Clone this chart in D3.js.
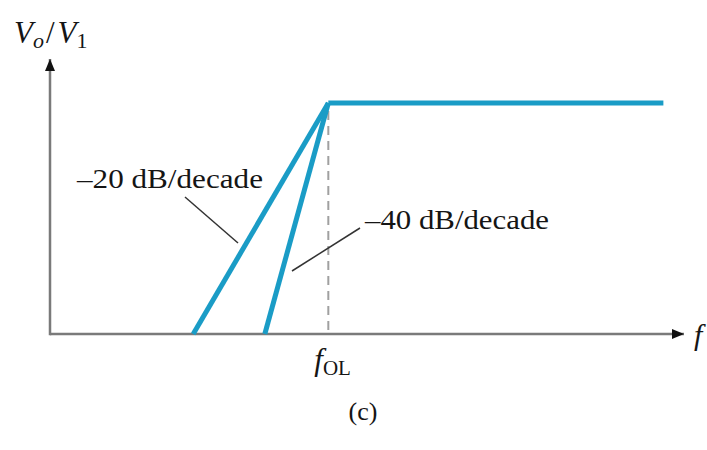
<!DOCTYPE html>
<html>
<head>
<meta charset="utf-8">
<script src="https://cdn.jsdelivr.net/npm/d3@7"></script>
<style>
  html, body { margin: 0; padding: 0; background: #fff; }
  svg { display: block; font-family: "Liberation Serif", "DejaVu Serif", serif; }
</style>
</head>
<body>
<svg id="chart" width="707" height="450"></svg>
<script>
// x: log10(f / fOL) in decades, y: gain in dB relative to the midband level
const flatResponse = [{ x: 0, y: 0 }, { x: 2.48, y: 0 }];
const rolloff20 = [{ x: -1.0, y: -20 }, { x: 0, y: 0 }];
const rolloff40 = [{ x: -0.47, y: -20 }, { x: 0, y: 0 }];
const breakFrequency = [0];
const slopeLabels = ["\u201320 dB/decade", "\u201340 dB/decade"];
const tickLabels = ["f", "OL"];

const svg = d3.select("#chart");
const x = d3.scaleLinear().domain([-2.06, 2.64]).range([50, 685]);
const y = d3.scaleLinear().domain([-20, 0]).range([334, 103]);
const yTop = 3.9;

const axisColor = "#7a7a7a";
const blue = "#1a9cc6";
const ink = "#151515";

const defs = svg.append("defs");
defs.append("marker")
  .attr("id", "arrow").attr("viewBox", "0 0 12 10")
  .attr("refX", 12).attr("refY", 5)
  .attr("markerWidth", 12).attr("markerHeight", 10)
  .attr("markerUnits", "userSpaceOnUse")
  .attr("orient", "auto")
  .append("path").attr("d", "M0,0 L12,5 L0,10 Z").attr("fill", "#111");

// axes
svg.append("line")
  .attr("x1", x(-2.06)).attr("y1", y(-20))
  .attr("x2", x(2.64) - 1).attr("y2", y(-20))
  .attr("stroke", axisColor).attr("stroke-width", 2.5)
  .attr("marker-end", "url(#arrow)");
svg.append("line")
  .attr("x1", x(-2.06)).attr("y1", y(-20) + 1.2)
  .attr("x2", x(-2.06)).attr("y2", y(yTop) + 1)
  .attr("stroke", axisColor).attr("stroke-width", 2.5)
  .attr("marker-end", "url(#arrow)");

// dashed break-frequency line
svg.selectAll("line.brk").data(breakFrequency).enter().append("line")
  .attr("class", "brk")
  .attr("x1", d => x(d)).attr("x2", d => x(d))
  .attr("y1", y(0) + 8).attr("y2", y(-20))
  .attr("stroke", "#a0a0a0").attr("stroke-width", 2)
  .attr("stroke-dasharray", "9,6");

// response curves
const line = d3.line().x(d => x(d.x)).y(d => y(d.y));
[rolloff20, rolloff40, flatResponse].forEach(data => {
  svg.append("path").datum(data)
    .attr("d", line)
    .attr("fill", "none")
    .attr("stroke", blue)
    .attr("stroke-width", 5)
    .attr("stroke-linejoin", "miter");
});

// leader lines
svg.append("line").attr("x1", 185).attr("y1", 197).attr("x2", 238).attr("y2", 243)
  .attr("stroke", "#333").attr("stroke-width", 1.5);
svg.append("line").attr("x1", 292).attr("y1", 271).attr("x2", 360).attr("y2", 228)
  .attr("stroke", "#333").attr("stroke-width", 1.5);

// slope labels
svg.append("text").attr("x", 77).attr("y", 188)
  .attr("font-size", 28).attr("fill", ink)
  .attr("textLength", 186).attr("lengthAdjust", "spacingAndGlyphs")
  .text(slopeLabels[0]);
svg.append("text").attr("x", 365).attr("y", 229)
  .attr("font-size", 28).attr("fill", ink)
  .attr("textLength", 184).attr("lengthAdjust", "spacingAndGlyphs")
  .text(slopeLabels[1]);

// y-axis label Vo / V1
const yl = svg.append("text").attr("x", 14).attr("y", 43)
  .attr("font-size", 31).attr("fill", ink);
yl.append("tspan").attr("font-style", "italic").text("V");
yl.append("tspan").attr("font-style", "italic").attr("font-size", 22).attr("dy", 5).text("o");
yl.append("tspan").attr("dy", -5).attr("dx", 2).text("/");
yl.append("tspan").attr("font-style", "italic").attr("dx", 3).text("V");
yl.append("tspan").attr("font-size", 22).attr("dy", 5).text("1");

// x-axis label f
svg.append("text").attr("x", 694).attr("y", 345)
  .attr("font-size", 30).attr("font-style", "italic").attr("fill", ink)
  .text("f");

// break frequency tick label fOL
const fl = svg.append("text").attr("x", x(breakFrequency[0]) - 14).attr("y", 370)
  .attr("font-size", 31).attr("fill", ink);
fl.append("tspan").attr("font-style", "italic").text(tickLabels[0]);
fl.append("tspan").attr("font-size", 21).attr("dy", 5).text(tickLabels[1]);

// caption
svg.append("text").attr("x", 363).attr("y", 420)
  .attr("text-anchor", "middle")
  .attr("font-size", 26).attr("fill", ink)
  .text("(c)");
</script>
</body>
</html>
